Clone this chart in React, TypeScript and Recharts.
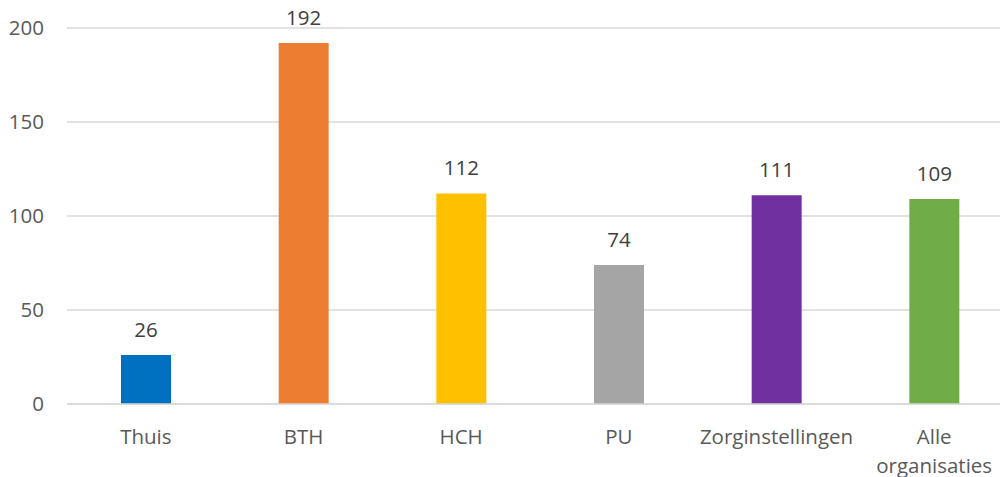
import React from "react";
import { BarChart, Bar, XAxis, YAxis, CartesianGrid, Cell, LabelList, Text } from "recharts";

const categories = ["Thuis", "BTH", "HCH", "PU", "Zorginstellingen", "Alle organisaties"];
const values = [26, 192, 112, 74, 111, 109];
const colors = ["#0070C0", "#ED7D31", "#FFC000", "#A5A5A5", "#7030A0", "#70AD47"];
const yTicks = [0, 50, 100, 150, 200];

const data = categories.map((name, i) => ({ name, value: values[i] }));

const FONT = "'Open Sans', 'Noto Sans', sans-serif";
const FS = 20.5;

function CategoryTick(props: any) {
  const { x, y, payload } = props;
  return (
    <Text
      x={x}
      y={y + 17}
      width={100}
      textAnchor="middle"
      verticalAnchor="start"
      lineHeight={29}
      fontSize={FS}
      fontFamily={FONT}
      fill="#595959"
    >
      {payload.value}
    </Text>
  );
}

export default function App() {
  return (
    <div style={{ position: "absolute", left: 0, top: 0, width: 1000, height: 477, overflow: "hidden", background: "#fff" }}>
      <BarChart width={1013} height={477} data={data} margin={{ top: 28, right: 0, bottom: 0, left: 0 }}>
        <CartesianGrid vertical={false} stroke="#d9d9d9" strokeWidth={1.3} />
        <XAxis
          dataKey="name"
          height={73}
          axisLine={{ stroke: "#d9d9d9", strokeWidth: 1.3 }}
          tickLine={false}
          interval={0}
          tick={<CategoryTick />}
        />
        <YAxis
          width={67}
          domain={[0, 200]}
          ticks={yTicks}
          axisLine={false}
          tickLine={false}
          tickMargin={17}
          tick={{ fontSize: FS, fontFamily: FONT, fill: "#595959" }}
        />
        <Bar dataKey="value" barSize={50} isAnimationActive={false}>
          {data.map((d, i) => (
            <Cell key={d.name} fill={colors[i]} />
          ))}
          <LabelList
            dataKey="value"
            position="top"
            offset={18}
            fontSize={FS}
            fontFamily={FONT}
            fill="#404040"
          />
        </Bar>
      </BarChart>
    </div>
  );
}
